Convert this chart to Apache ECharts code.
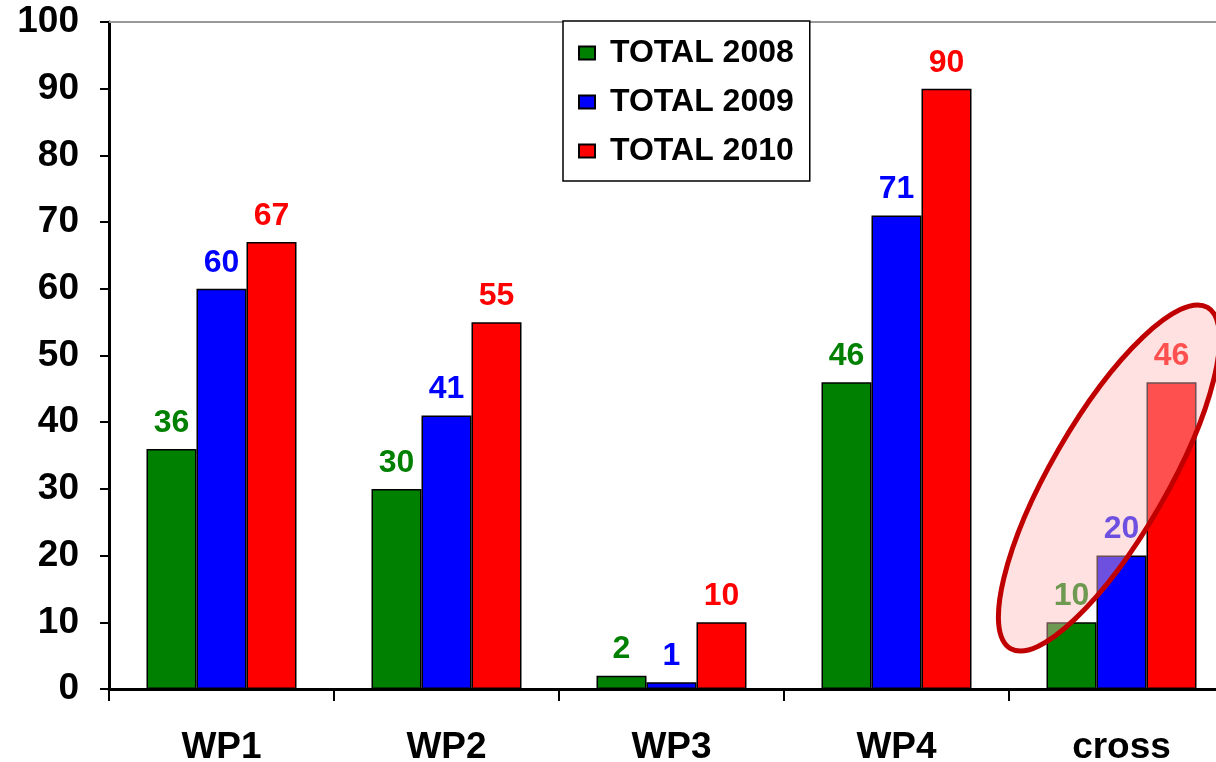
<!DOCTYPE html>
<html>
<head>
<meta charset="utf-8">
<script src="https://cdn.jsdelivr.net/npm/echarts@6/dist/echarts.min.js"></script>
<style>html,body{margin:0;padding:0;background:#fff;}#c{width:1216px;height:762px;}</style>
</head>
<body>
<div id="c"></div>
<script>
const categories = ['WP1', 'WP2', 'WP3', 'WP4', 'cross'];
const seriesNames = ['TOTAL 2008', 'TOTAL 2009', 'TOTAL 2010'];
const total2008 = [36, 30, 2, 46, 10];
const total2009 = [60, 41, 1, 71, 20];
const total2010 = [67, 55, 10, 90, 46];
const yTicks = [0, 10, 20, 30, 40, 50, 60, 70, 80, 90, 100];

const colors = ['#008000', '#0000ff', '#ff0000'];
const FONT = '"Liberation Sans", Arial, sans-serif';

const chart = echarts.init(document.getElementById('c'));

function makeSeries(name, data, color) {
  return {
    name: name,
    type: 'bar',
    data: data,
    barWidth: 50,
    barGap: '0%',
    itemStyle: { color: color, borderColor: '#000', borderWidth: 1.5 },
    label: {
      show: true,
      position: 'top',
      distance: 10,
      color: color,
      fontFamily: FONT,
      fontWeight: 'bold',
      fontSize: 32
    }
  };
}

chart.setOption({
  animation: false,
  backgroundColor: '#fff',
  grid: { left: 109, top: 22, width: 1125, bottom: 73, containLabel: false, outerBoundsMode: 'none' },
  legend: {
    orient: 'vertical',
    left: 563,
    top: 21,
    padding: [16, 16, 14, 15],
    itemGap: 17,
    itemWidth: 16,
    itemHeight: 13,
    icon: 'rect',
    backgroundColor: '#fff',
    borderColor: '#000',
    borderWidth: 1.5,
    borderRadius: 0,
    textStyle: { color: '#000', fontFamily: FONT, fontWeight: 'bold', fontSize: 32, padding: [0, 0, 0, 10] },
    data: seriesNames
  },
  xAxis: [{
    type: 'category',
    data: categories,
    boundaryGap: true,
    axisLine: { lineStyle: { color: '#000', width: 3 } },
    axisTick: { show: true, length: 12, lineStyle: { color: '#000', width: 2 } },
    axisLabel: { color: '#000', fontFamily: FONT, fontWeight: 'bold', fontSize: 37, margin: 40 }
  }, {
    type: 'category',
    data: categories,
    position: 'top',
    axisLine: { lineStyle: { color: '#999', width: 2 } },
    axisTick: { show: false },
    axisLabel: { show: false }
  }],
  yAxis: {
    type: 'value',
    min: yTicks[0],
    max: yTicks[yTicks.length - 1],
    interval: 10,
    splitLine: { show: false },
    axisLine: { show: true, lineStyle: { color: '#000', width: 3 } },
    axisTick: { show: true, length: 9, lineStyle: { color: '#000', width: 2 } },
    axisLabel: { color: '#000', fontFamily: FONT, fontWeight: 'bold', fontSize: 37, margin: 30 }
  },
  series: [
    makeSeries(seriesNames[0], total2008, colors[0]),
    makeSeries(seriesNames[1], total2009, colors[1]),
    makeSeries(seriesNames[2], total2010, colors[2])
  ],
  graphic: [{
    type: 'ellipse',
    x: 1109,
    y: 478,
    rotation: 60 * Math.PI / 180,
    shape: { cx: 0, cy: 0, rx: 197, ry: 58 },
    style: { fill: 'rgba(255,186,186,0.43)', stroke: '#c00000', lineWidth: 5 },
    z: 100
  }]
});
</script>
</body>
</html>
